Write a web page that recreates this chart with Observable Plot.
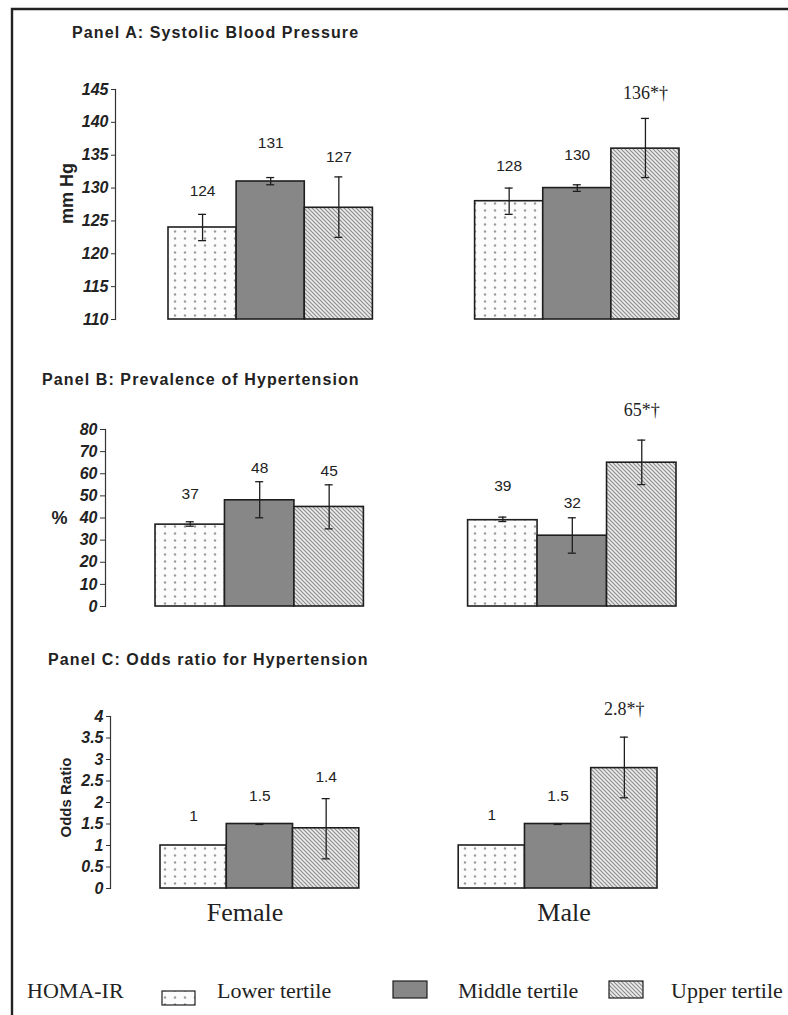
<!DOCTYPE html>
<html><head><meta charset="utf-8">
<script src="https://cdn.jsdelivr.net/npm/d3@7"></script>
<script src="https://cdn.jsdelivr.net/npm/@observablehq/plot@0.6"></script>
<style>
html,body{margin:0;padding:0;background:#fff;}
#root{position:relative;width:788px;height:1015px;overflow:hidden;background:#fff;}
#root svg{position:absolute;left:0;}
</style></head><body><div id="root"></div>
<script>
// ---------- data ----------
const sexes = ["Female", "Male"];
const tertiles = ["Lower tertile", "Middle tertile", "Upper tertile"];

// Panel A: Systolic blood pressure (mm Hg)
const sbpMean = [124, 131, 127, 128, 130, 136];
const sbpLow = [122, 130.5, 122.5, 126, 129.5, 131.6];
const sbpHigh = [126, 131.6, 131.7, 130, 130.5, 140.6];
const sbpText = ["124", "131", "127", "128", "130", "136*†"];
const sbpTextAt = [129.6, 136.8, 134.7, 133.4, 135.1, 144.4];
const sbpTicks = [110, 115, 120, 125, 130, 135, 140, 145];

// Panel B: Prevalence of hypertension (%)
const htnMean = [37, 48, 45, 39, 32, 65];
const htnLow = [36.3, 40.1, 35.1, 38.4, 24.1, 55.1];
const htnHigh = [38.3, 56.4, 55, 40.4, 40.1, 75.2];
const htnText = ["37", "48", "45", "39", "32", "65*†"];
const htnTextAt = [50.9, 62.4, 61.2, 54.4, 46.9, 88.6];
const htnTicks = [0, 10, 20, 30, 40, 50, 60, 70, 80];

// Panel C: Odds ratio for hypertension
const orMean = [1, 1.5, 1.4, 1, 1.5, 2.8];
const orLow = [null, 1.49, 0.69, null, 1.49, 2.11];
const orHigh = [null, 1.51, 2.09, null, 1.51, 3.52];
const orText = ["1", "1.5", "1.4", "1", "1.5", "2.8*†"];
const orTextAt = [1.68, 2.15, 2.59, 1.70, 2.14, 4.18];
const orTicks = [0, 0.5, 1, 1.5, 2, 2.5, 3, 3.5, 4];

const titles = ["Panel A: Systolic Blood Pressure", "Panel B: Prevalence of Hypertension", "Panel C: Odds ratio for Hypertension"];
const legendTitle = "HOMA-IR";

// ---------- styles ----------
const SANS = "'Liberation Sans', Arial, Helvetica, sans-serif";
const SERIF = "'Liberation Serif', 'Times New Roman', Times, serif";
const INK = "#1e1e1e";
const patterns = ["url(#patDots)", "#878787", "url(#patHatch)"];

const root = document.getElementById("root");

// ---------- overlay: frame, titles, group labels, legend, pattern defs ----------
const W = 788, H = 1015;
const ov = d3.select(root).append("svg").attr("width", W).attr("height", H).style("top", "0px");
const defs = ov.append("defs");
const pd = defs.append("pattern").attr("id", "patDots").attr("patternUnits", "userSpaceOnUse")
  .attr("width", 10).attr("height", 7);
pd.append("rect").attr("width", 10).attr("height", 7).attr("fill", "#fcfcfc");
pd.append("circle").attr("cx", 5).attr("cy", 3.5).attr("r", 1.2).attr("fill", "#9c9c9c");
const ph = defs.append("pattern").attr("id", "patHatch").attr("patternUnits", "userSpaceOnUse")
  .attr("width", 4).attr("height", 4);
ph.append("rect").attr("width", 4).attr("height", 4).attr("fill", "#ececec");
ph.append("path").attr("d", "M-1,-1L5,5M-1,3L1,5M3,-1L5,1").attr("stroke", "#8e8e8e").attr("stroke-width", 1.2);

// outer frame (top + left)
ov.append("path").attr("d", "M12,1015V9H788").attr("fill", "none").attr("stroke", "#222").attr("stroke-width", 2.4);

// panel titles
const titlePos = [[72, 38], [42, 385], [48, 665]];
titles.forEach((t, i) => {
  ov.append("text").attr("x", titlePos[i][0]).attr("y", titlePos[i][1]).text(t)
    .attr("font-family", SANS).attr("font-weight", "bold").attr("font-size", 16)
    .attr("letter-spacing", "1.1px").attr("fill", "#222");
});

// group labels
const groupPos = [245, 564];
sexes.forEach((s, i) => {
  ov.append("text").attr("x", groupPos[i]).attr("y", 921).attr("text-anchor", "middle").text(s)
    .attr("font-family", SERIF).attr("font-size", 26).attr("fill", "#222");
});

// legend
const lg = ov.append("g").attr("font-family", SERIF).attr("font-size", 22).attr("fill", "#222");
lg.append("text").attr("x", 27).attr("y", 998).text(legendTitle);
const swatches = [[162, 991, 33, 14, 217], [393, 981, 34, 17, 458], [609, 981, 34, 17, 671]];
tertiles.forEach((t, k) => {
  const [x, y, w, h, tx] = swatches[k];
  lg.append("rect").attr("x", x).attr("y", y).attr("width", w).attr("height", h)
    .attr("fill", patterns[k]).attr("stroke", INK).attr("stroke-width", 1.2);
  lg.append("text").attr("x", tx).attr("y", 998).text(t);
});

// ---------- panels ----------
function panel(cfg) {
  const rows = cfg.mean.map((v, i) => ({
    sex: sexes[Math.floor(i / 3)], tertile: tertiles[i % 3],
    g: Math.floor(i / 3), t: i % 3, value: v,
    lo: cfg.low[i], hi: cfg.high[i], text: cfg.text[i], at: cfg.textAt[i]
  }));
  const GAP = 1.5;
  const x1 = d => d.g * (3 + GAP) + d.t;
  const cx = d => x1(d) + 0.5;
  const pxPerUnit = (cfg.range[1] - cfg.range[0]) / (6 + GAP);
  const cap = 4 / pxPerUnit;
  const err = rows.filter(d => d.lo != null);
  const base = cfg.domain[0];
  const marks = [
    ...tertiles.map((tt, k) => Plot.rectY(rows.filter(d => d.t === k), {
      x1, x2: d => x1(d) + 1, y1: () => base, y2: "value",
      fill: patterns[k], stroke: INK, strokeWidth: 1.6
    })),
    Plot.ruleX(err, {x: cx, y1: "lo", y2: "hi", stroke: INK, strokeWidth: 1.3}),
    Plot.ruleY(err, {y: "lo", x1: d => cx(d) - cap, x2: d => cx(d) + cap, stroke: INK, strokeWidth: 1.3}),
    Plot.ruleY(err, {y: "hi", x1: d => cx(d) - cap, x2: d => cx(d) + cap, stroke: INK, strokeWidth: 1.3}),
    Plot.frame({anchor: "left", stroke: "#333", strokeWidth: 1.2}),
    Plot.axisY({
      ticks: cfg.ticks, tickSize: cfg.tickSize, tickPadding: cfg.tickPadding, tickFormat: d => String(d),
      fontWeight: "bold", fontStyle: "italic", fontSize: 16, fontFamily: SANS, fill: "#222", stroke: "#333", label: null
    }),
    Plot.text(rows.filter(d => !d.text.includes("*")), {
      x: cx, y: "at", text: "text", fontFamily: SANS, fontSize: 15.5, fontWeight: "normal", fontStyle: "normal", fill: "#222"
    }),
    Plot.text(rows.filter(d => d.text.includes("*")), {
      x: cx, y: "at", text: "text", fontFamily: SERIF, fontSize: 18, fontWeight: "normal", fontStyle: "normal", fill: "#222"
    }),
    Plot.text([cfg.yLabel], {
      frameAnchor: "left", textAnchor: "middle", lineAnchor: "middle", text: d => d, rotate: cfg.rotate,
      dx: cfg.labelDx, dy: cfg.labelDy,
      fontFamily: SANS, fontWeight: "bold", fontStyle: "normal", fontSize: cfg.labelSize, fill: "#222"
    })
  ];
  const svg = Plot.plot({
    width: W, height: cfg.height,
    marginTop: cfg.marginTop, marginBottom: cfg.marginBottom, marginLeft: cfg.marginLeft, marginRight: 20,
    x: {type: "linear", domain: [0, 6 + GAP], range: cfg.range, axis: null},
    y: {domain: cfg.domain},
    style: {fontFamily: SANS, fontSize: "16px", background: "transparent", overflow: "visible", color: "#222"},
    marks
  });
  svg.style.top = cfg.top + "px";
  root.appendChild(svg);
}

panel({
  mean: sbpMean, low: sbpLow, high: sbpHigh, text: sbpText, textAt: sbpTextAt, ticks: sbpTicks,
  domain: [110, 145], range: [168, 679], top: 60, height: 280, marginTop: 29, marginBottom: 21, marginLeft: 115,
  tickSize: 4, tickPadding: 3, yLabel: "mm Hg", rotate: -90, labelDx: -48, labelDy: -11, labelSize: 18
});
panel({
  mean: htnMean, low: htnLow, high: htnHigh, text: htnText, textAt: htnTextAt, ticks: htnTicks,
  domain: [0, 80], range: [155, 676], top: 390, height: 240, marginTop: 39, marginBottom: 24, marginLeft: 105,
  tickSize: 5, tickPadding: 3, yLabel: "%", rotate: 0, labelDx: -46, labelDy: 0, labelSize: 18
});
panel({
  mean: orMean, low: orLow, high: orHigh, text: orText, textAt: orTextAt, ticks: orTicks,
  domain: [0, 4], range: [160, 657], top: 670, height: 240, marginTop: 46, marginBottom: 22, marginLeft: 110,
  tickSize: 4, tickPadding: 3, yLabel: "Odds Ratio", rotate: -90, labelDx: -44, labelDy: -5, labelSize: 15
});
</script>
</body></html>
